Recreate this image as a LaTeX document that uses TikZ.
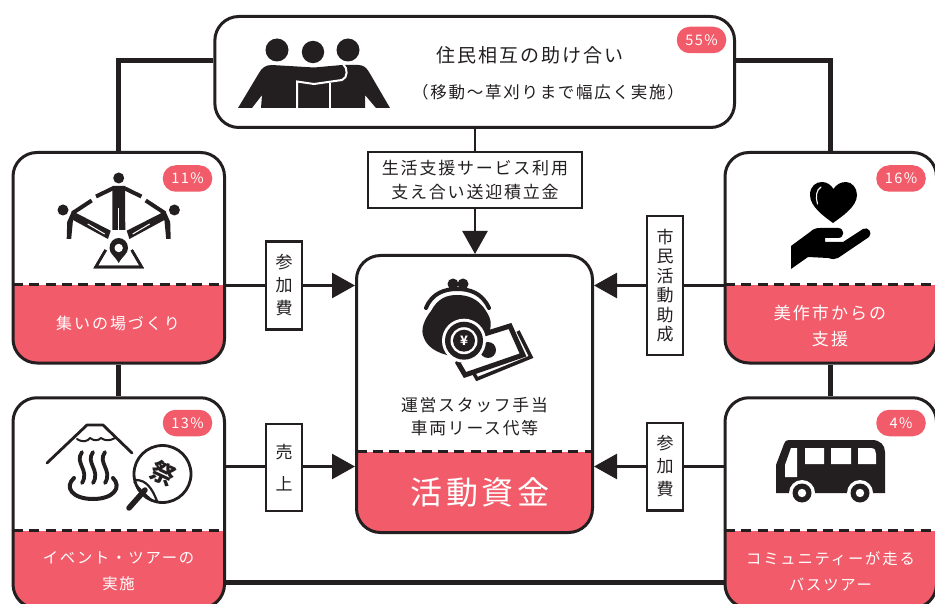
\documentclass[tikz,border=0pt]{standalone}
\usepackage{fontspec}
\setmainfont[LetterSpace=10.5]{Noto Sans CJK JP}
\newfontfamily\widefont[LetterSpace=12]{Noto Sans CJK JP}
\usepackage{tikz}
\usetikzlibrary{arrows.meta,positioning}
\usepackage{xcolor}
\definecolor{mred}{HTML}{F25C6A}
\definecolor{mink}{HTML}{231F20}
\tikzstyle{l1}=[line width=2.5, draw=mink]
\tikzstyle{l2}=[line width=5, draw=mink]
\tikzstyle{flow}=[-{Triangle[length=23pt,width=25pt]}]
\tikzset{card/.style={draw=mink, line width=3, rounded corners=24, fill=white, inner sep=0,
    minimum width=211.5, minimum height=210.5,
    path picture={
        \fill[mred, sharp corners] (path picture bounding box.south west) rectangle ([yshift=#1]path picture bounding box.south east);
        \draw[line width=3, draw=mink, sharp corners, dash pattern=on 10pt off 6.3pt] ([yshift=#1]path picture bounding box.south west) -- ([yshift=#1]path picture bounding box.south east);
    }}}
\tikzstyle{tag}=[draw=mink, line width=2.5, fill=white, inner sep=0, minimum width=36, align=center, font=\fontsize{17}{23}\selectfont, text=mink]
\tikzstyle{pill}=[fill=mred, rounded corners=13, minimum width=49.5, minimum height=26.5, inner sep=0, text=white, font=\fontsize{14.5}{15}\selectfont]
\tikzstyle{redtxt}=[text=white, align=center, inner sep=0, font=\widefont\fontsize{16}{26}\selectfont]
\tikzstyle{blacktxt}=[text=mink, align=center, inner sep=0]
\tikzstyle{ico}=[line width=2.8, draw=mink, line cap=round, line join=round]

\begin{document}
\begin{tikzpicture}[x=1pt, y=-1pt]

    \useasboundingbox (0,0) rectangle (935,604);

    \node[draw=mink, line width=3, rounded corners=24, fill=white, minimum width=519.7, minimum height=111, inner sep=0] at (474.7,72) (mutual) {};
    \node[card=78] at (118.75,257.75) (gather) {};
    \node[card=77.5] at (118.75,503) (event) {};
    \node[card=78] at (830.75,257.75) (city) {};
    \node[card=77.5] at (830.75,503) (bustour) {};
    \node[card=81, minimum width=236, minimum height=277] at (474.5,394) (funds) {};

    \node[tag, minimum width=214, minimum height=56, font=\fontsize{17}{24.5}\selectfont] at (475,180) (reserve) {生活支援サービス利用\\支え合い送迎積立金};
    \node[tag, minimum height=87.5] at (284,285.5) (feeleft) {参\\加\\費};
    \node[tag, minimum height=87, font=\fontsize{17}{32}\selectfont] at (284,467.5) (sales) {売\\上};
    \node[tag, minimum height=139, font=\fontsize{17}{19.5}\selectfont] at (665,285.5) (grant) {市\\民\\活\\動\\助\\成};
    \node[tag, minimum height=87.5] at (665,466.5) (feeright) {参\\加\\費};

    \draw[l2] ([yshift=11pt]mutual.west) -| (gather.north);
    \draw[l2] ([yshift=11pt]mutual.east) -| (city.north);
    \draw[l2] (gather.south) -- (event.north);
    \draw[l2] (city.south) -- (bustour.north);
    \draw[l2] (event.east |- 0,582) -- (bustour.west |- 0,582);

    \draw[l1] (mutual.south -| reserve.north) -- (reserve.north);
    \draw[l1, flow] (reserve.south) -- (reserve.south |- funds.north);
    \draw[l1] (feeleft.west -| gather.east) -- (feeleft.west);
    \draw[l1, flow] (feeleft.east) -- (feeleft.east -| funds.west);
    \draw[l1] (sales.west |- 0,466.5) -- (gather.east |- 0,466.5);
    \draw[l1, flow] (sales.east |- 0,466.5) -- (funds.west |- 0,466.5);
    \draw[l1] (grant.east) -- (grant.east -| city.west);
    \draw[l1, flow] (grant.west) -- (grant.west -| funds.east);
    \draw[l1] (feeright.east) -- (feeright.east -| bustour.west);
    \draw[l1, flow] (feeright.west) -- (feeright.west -| funds.east);

    \node[pill] at (701.5,40) (pctmutual) {55\%};
    \node[pill] at (187.5,178.5) (pctgather) {11\%};
    \node[pill] at (187.5,423) (pctevent) {13\%};
    \node[pill] at (901,178.5) (pctcity) {16\%};
    \node[pill] at (901,423) (pctbus) {4\%};

    \node[blacktxt, font=\fontsize{19}{22}\selectfont] at (530,55) (mutualtitle) {住民相互の助け合い};
    \node[blacktxt, font=\fontsize{16.5}{22}\selectfont] at (548,92) (mutualnote) {（移動～草刈りまで幅広く実施）};
    \node[blacktxt, font=\fontsize{16.8}{23.5}\selectfont] at (474.5,416.5) (fundsnote) {運営スタッフ手当\\車両リース代等};
    \node[redtxt, font=\widefont\fontsize{32}{32}\selectfont] at (480,492) (fundstitle) {活動資金};
    \node[redtxt] at (118,323) (gathertitle) {集いの場づくり};
    \node[redtxt, font=\widefont\fontsize{15.3}{26}\selectfont] at (118.5,571) (eventtitle) {イベント・ツアーの\\実施};
    \node[redtxt, font=\widefont\fontsize{17}{26}\selectfont] at (830,326) (citytitle) {美作市からの\\支援};
    \node[redtxt, font=\widefont\fontsize{15.3}{26}\selectfont] at (830.5,571) (bustitle) {コミュニティーが走る\\バスツアー};

    % people
    \fill[mink] (277,50) circle (11.5) (313,52) circle (11.2) (348,50) circle (11.5);
    \fill[mink] (238,108) -- (259,73) .. controls (262,68) and (265,65) .. (272,65) -- (314,67.5) -- (342,65) -- (358,65) .. controls (363,65) and (366,67) .. (369,72) -- (390,108) -- (376,108) -- (365,95) -- (365,108) -- (261,108) -- (262,95) -- (252,108) -- cycle;
    \draw[white, line width=2] (297,109) -- (297,81.5) -- (314,84) -- (342,80) .. controls (348,78) and (348,68) .. (343,64);
    \draw[white, line width=2.5] (330,109) -- (330,83);

    % circle of people
    \fill[mink] (118.7,178) circle (5.5) (63,210) circle (5.5) (174.4,210) circle (5.5);
    \fill[mink] (112.5,186) -- (125,186) -- (125.3,230) -- (112.3,230) -- cycle;
    \draw[white, line width=1.3] (118.7,208) -- (118.7,231);
    \draw[mink, line width=4] (96,196.5) -- (112.5,188.5) -- (125,188.5) -- (141.4,196.5);
    \foreach \s in {1,-1} {
        \begin{scope}[shift={(118.7,0)}, xscale=\s]
            \fill[mink] (-52,239) -- (-51.5,222) -- (-46.7,211) -- (-8,230.7) -- (-10.7,239) -- (-45.7,220) -- (-47.5,239) -- cycle;
            \draw[mink, line width=4] (-46,213) -- (-27,200.5);
            \draw[white, line width=1] (-31,224) -- (-14,234);
            \draw[mink, line width=2.6, line join=miter] (-13,250) -- (-23,267) -- (23,267) -- (13,250);
        \end{scope}
    }
    \fill[mink] (118.7,263) .. controls (115,256) and (109.5,254) .. (109.5,248) .. controls (109.5,242) and (114,238) .. (118.7,238) .. controls (123.4,238) and (128,242) .. (128,248) .. controls (128,254) and (122.4,256) .. (118.7,263) -- cycle;
    \fill[white] (118.7,248) circle (4.2);

    % mountain and hot spring
    \draw[ico] (47,463) -- (87,425) -- (103,425) -- (132,453);
    \draw[ico, line width=2] (77,439) .. controls (83,443) and (88,441) .. (90,438) .. controls (94,441) and (98,441) .. (101,438) .. controls (105,441) and (110,441) .. (115,438);
    \draw[ico, line width=4] (74,478) .. controls (64,487) and (72,499) .. (93,499) .. controls (114,499) and (122,487) .. (113,478);
    \foreach \x in {82,93,105} {
        \draw[ico, line width=3.8] (\x,452) .. controls (\x-8,463) and (\x+8,470) .. (\x,483);
    }

    % paper fan
    \draw[ico, line width=2.8] (162.5,474) circle (28.5);
    \draw[ico, line width=2.2] (136,480) .. controls (146,480) and (152,488) .. (157,501);
    \foreach \a/\b in {134/482, 137/488, 142/495, 148/499, 153/501} {
        \draw[ico, line width=1.4] (143,492) -- (\a,\b);
    }
    \draw[ico, line width=5.5] (129,508) -- (145,490);
    \node[text=mink, inner sep=0, rotate=-25, font=\bfseries\fontsize{24}{24}\selectfont] at (163,473) (festival) {祭};

    % purse, coin and bills
    \fill[mink] (431,311) .. controls (438,298) and (447,295) .. (457,295) .. controls (467,295) and (478,298) .. (486,311) .. controls (492,320) and (491,325) .. (490,330) -- (455,356) .. controls (445,356) and (428,350) .. (424,338) .. controls (420,330) and (424,320) .. (431,311) -- cycle;
    \draw[ico, line width=4] (426,308) .. controls (432,293) and (445,289) .. (457,289) .. controls (470,289) and (482,293) .. (489,308);
    \fill[mink] (453,284) circle (5.5) (463,284) circle (5.5);
    \draw[mink, line width=5, line join=miter, fill=white] (458,363) -- (465,375) -- (523,355) -- (510,326) -- (478,336) -- (470,345) -- cycle;
    \draw[mink, line width=3.5, line join=miter] (518,331) -- (531,357) -- (477,379) -- (473,372);
    \fill[mink] (488,350) circle (8);
    \fill[white] (464,340.7) circle (22);
    \fill[mink] (464,340.7) circle (19);
    \fill[white] (464,340.7) circle (13.5);
    \fill[mink] (464,340.7) circle (11);
    \node[text=white, inner sep=0, font=\bfseries\fontsize{13}{13}\selectfont] at (464,340.7) (yen) {¥};

    % heart and hand
    \fill[black] (833,223) .. controls (825,217) and (810,207) .. (810,195) .. controls (810,186) and (816,182) .. (822,182) .. controls (827,182) and (831,185) .. (833.5,189) .. controls (836,185) and (840,182) .. (846,182) .. controls (852,182) and (857,188) .. (857,195) .. controls (857,207) and (841,217) .. (833,223) -- cycle;
    \draw[white, line width=1.1, line cap=round] (817.5,204) .. controls (815.5,197) and (816,190) .. (821,187);
    \fill[black] (791,246) -- (810,232) .. controls (813,229) and (816,228) .. (820,228) -- (838,228) .. controls (845,228) and (845,238) .. (838,238) -- (825,238) -- (825,242) -- (843,242) -- (863,229) .. controls (868,226) and (873,233) .. (869,237) -- (838,258) .. controls (835,260) and (832,259) .. (828,258) -- (808,257) -- (791,269) -- cycle;

    % bus
    \fill[mink] (776,493) -- (776,465) -- (784,444) .. controls (785,441) and (786,440) .. (789,440) -- (872,440) .. controls (880,440) and (885,445) .. (885,452) -- (885,493) -- cycle;
    \fill[white] (805,448) rectangle (824,464) (831,448) rectangle (851,464);
    \fill[white] (858,448) -- (871,448) .. controls (875,448) and (876,451) .. (876,454) -- (876,464) -- (858,464) -- cycle;
    \fill[white] (791,448) -- (797,448) -- (797,477) -- (785,477) -- (785,465) -- cycle;
    \foreach \x in {802,860} {
        \fill[white] (\x,493) circle (13);
        \fill[mink] (\x,493) circle (9.5);
        \fill[white] (\x,493) circle (4.2);
    }

\end{tikzpicture}
\end{document}
